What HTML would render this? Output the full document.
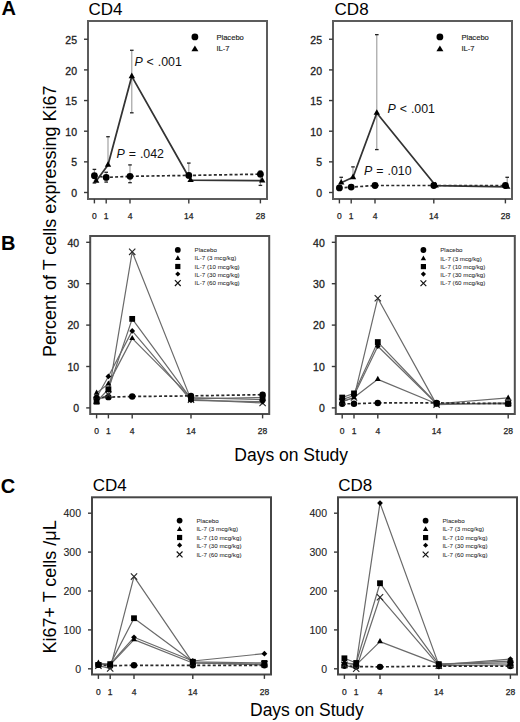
<!DOCTYPE html>
<html><head><meta charset="utf-8"><title>Figure</title>
<style>html,body{margin:0;padding:0;background:#fff;width:520px;height:722px;overflow:hidden}svg{display:block}text{font-family:"Liberation Sans", sans-serif}</style>
</head><body>
<svg width="520" height="722" viewBox="0 0 520 722" font-family='"Liberation Sans", sans-serif'>
<rect width="520" height="722" fill="#fff"/>
<text x="1.6" y="14.8" font-size="20" text-anchor="start" font-weight="bold" font-style="normal" fill="#000" >A</text>
<text x="1" y="250.4" font-size="20" text-anchor="start" font-weight="bold" font-style="normal" fill="#000" >B</text>
<text x="0.8" y="492.6" font-size="20" text-anchor="start" font-weight="bold" font-style="normal" fill="#000" >C</text>
<text x="88.5" y="15.3" font-size="17" text-anchor="start" font-weight="normal" font-style="normal" fill="#000" >CD4</text>
<text x="334.6" y="15.3" font-size="17" text-anchor="start" font-weight="normal" font-style="normal" fill="#000" >CD8</text>
<text x="92.8" y="491.1" font-size="17" text-anchor="start" font-weight="normal" font-style="normal" fill="#000" >CD4</text>
<text x="338.2" y="490.9" font-size="17" text-anchor="start" font-weight="normal" font-style="normal" fill="#000" >CD8</text>
<text transform="translate(56.0 221.3) rotate(-90)" font-size="18" text-anchor="middle" fill="#000">Percent of T cells expressing Ki67</text>
<text transform="translate(56.0 586.9) rotate(-90)" font-size="18" text-anchor="middle" fill="#000">Ki67+ T cells /μL</text>
<text x="234.3" y="460.7" font-size="17.5" text-anchor="start" font-weight="normal" font-style="normal" fill="#000" >Days on Study</text>
<text x="250" y="716.2" font-size="17.5" text-anchor="start" font-weight="normal" font-style="normal" fill="#000" >Days on Study</text>
<rect x="88" y="21" width="179" height="178" fill="none" stroke="#5c5c5c" stroke-width="2"/>
<line x1="84" y1="192.5" x2="88" y2="192.5" stroke="#3a3a3a" stroke-width="1.4"/>
<text x="77" y="197.12" font-size="10.5" text-anchor="end" font-weight="normal" font-style="normal" fill="#222" stroke="#222" stroke-width="0.3">0</text>
<line x1="84" y1="161.85" x2="88" y2="161.85" stroke="#3a3a3a" stroke-width="1.4"/>
<text x="77" y="166.47" font-size="10.5" text-anchor="end" font-weight="normal" font-style="normal" fill="#222" stroke="#222" stroke-width="0.3">5</text>
<line x1="84" y1="131.2" x2="88" y2="131.2" stroke="#3a3a3a" stroke-width="1.4"/>
<text x="77" y="135.82" font-size="10.5" text-anchor="end" font-weight="normal" font-style="normal" fill="#222" stroke="#222" stroke-width="0.3">10</text>
<line x1="84" y1="100.55" x2="88" y2="100.55" stroke="#3a3a3a" stroke-width="1.4"/>
<text x="77" y="105.17" font-size="10.5" text-anchor="end" font-weight="normal" font-style="normal" fill="#222" stroke="#222" stroke-width="0.3">15</text>
<line x1="84" y1="69.9" x2="88" y2="69.9" stroke="#3a3a3a" stroke-width="1.4"/>
<text x="77" y="74.52" font-size="10.5" text-anchor="end" font-weight="normal" font-style="normal" fill="#222" stroke="#222" stroke-width="0.3">20</text>
<line x1="84" y1="39.25" x2="88" y2="39.25" stroke="#3a3a3a" stroke-width="1.4"/>
<text x="77" y="43.87" font-size="10.5" text-anchor="end" font-weight="normal" font-style="normal" fill="#222" stroke="#222" stroke-width="0.3">25</text>
<line x1="94.4" y1="199" x2="94.4" y2="203.4" stroke="#3a3a3a" stroke-width="1.4"/>
<text x="94.4" y="219.06" font-size="8.5" text-anchor="middle" font-weight="normal" font-style="normal" fill="#222" stroke="#222" stroke-width="0.25">0</text>
<line x1="106.2" y1="199" x2="106.2" y2="203.4" stroke="#3a3a3a" stroke-width="1.4"/>
<text x="106.2" y="219.06" font-size="8.5" text-anchor="middle" font-weight="normal" font-style="normal" fill="#222" stroke="#222" stroke-width="0.25">1</text>
<line x1="130" y1="199" x2="130" y2="203.4" stroke="#3a3a3a" stroke-width="1.4"/>
<text x="130" y="219.06" font-size="8.5" text-anchor="middle" font-weight="normal" font-style="normal" fill="#222" stroke="#222" stroke-width="0.25">4</text>
<line x1="188.8" y1="199" x2="188.8" y2="203.4" stroke="#3a3a3a" stroke-width="1.4"/>
<text x="188.8" y="219.06" font-size="8.5" text-anchor="middle" font-weight="normal" font-style="normal" fill="#222" stroke="#222" stroke-width="0.25">14</text>
<line x1="260.4" y1="199" x2="260.4" y2="203.4" stroke="#3a3a3a" stroke-width="1.4"/>
<text x="260.4" y="219.06" font-size="8.5" text-anchor="middle" font-weight="normal" font-style="normal" fill="#222" stroke="#222" stroke-width="0.25">28</text>
<rect x="333" y="21" width="179" height="178" fill="none" stroke="#5c5c5c" stroke-width="2"/>
<line x1="329" y1="192.5" x2="333" y2="192.5" stroke="#3a3a3a" stroke-width="1.4"/>
<text x="322" y="197.12" font-size="10.5" text-anchor="end" font-weight="normal" font-style="normal" fill="#222" stroke="#222" stroke-width="0.3">0</text>
<line x1="329" y1="161.85" x2="333" y2="161.85" stroke="#3a3a3a" stroke-width="1.4"/>
<text x="322" y="166.47" font-size="10.5" text-anchor="end" font-weight="normal" font-style="normal" fill="#222" stroke="#222" stroke-width="0.3">5</text>
<line x1="329" y1="131.2" x2="333" y2="131.2" stroke="#3a3a3a" stroke-width="1.4"/>
<text x="322" y="135.82" font-size="10.5" text-anchor="end" font-weight="normal" font-style="normal" fill="#222" stroke="#222" stroke-width="0.3">10</text>
<line x1="329" y1="100.55" x2="333" y2="100.55" stroke="#3a3a3a" stroke-width="1.4"/>
<text x="322" y="105.17" font-size="10.5" text-anchor="end" font-weight="normal" font-style="normal" fill="#222" stroke="#222" stroke-width="0.3">15</text>
<line x1="329" y1="69.9" x2="333" y2="69.9" stroke="#3a3a3a" stroke-width="1.4"/>
<text x="322" y="74.52" font-size="10.5" text-anchor="end" font-weight="normal" font-style="normal" fill="#222" stroke="#222" stroke-width="0.3">20</text>
<line x1="329" y1="39.25" x2="333" y2="39.25" stroke="#3a3a3a" stroke-width="1.4"/>
<text x="322" y="43.87" font-size="10.5" text-anchor="end" font-weight="normal" font-style="normal" fill="#222" stroke="#222" stroke-width="0.3">25</text>
<line x1="339.4" y1="199" x2="339.4" y2="203.4" stroke="#3a3a3a" stroke-width="1.4"/>
<text x="339.4" y="219.06" font-size="8.5" text-anchor="middle" font-weight="normal" font-style="normal" fill="#222" stroke="#222" stroke-width="0.25">0</text>
<line x1="351.2" y1="199" x2="351.2" y2="203.4" stroke="#3a3a3a" stroke-width="1.4"/>
<text x="351.2" y="219.06" font-size="8.5" text-anchor="middle" font-weight="normal" font-style="normal" fill="#222" stroke="#222" stroke-width="0.25">1</text>
<line x1="375" y1="199" x2="375" y2="203.4" stroke="#3a3a3a" stroke-width="1.4"/>
<text x="375" y="219.06" font-size="8.5" text-anchor="middle" font-weight="normal" font-style="normal" fill="#222" stroke="#222" stroke-width="0.25">4</text>
<line x1="433.8" y1="199" x2="433.8" y2="203.4" stroke="#3a3a3a" stroke-width="1.4"/>
<text x="433.8" y="219.06" font-size="8.5" text-anchor="middle" font-weight="normal" font-style="normal" fill="#222" stroke="#222" stroke-width="0.25">14</text>
<line x1="505.4" y1="199" x2="505.4" y2="203.4" stroke="#3a3a3a" stroke-width="1.4"/>
<text x="505.4" y="219.06" font-size="8.5" text-anchor="middle" font-weight="normal" font-style="normal" fill="#222" stroke="#222" stroke-width="0.25">28</text>
<line x1="131.8" y1="50.28" x2="131.8" y2="112.81" stroke="#9a9a9a" stroke-width="1.1"/>
<line x1="130" y1="50.28" x2="133.6" y2="50.28" stroke="#222" stroke-width="1.3"/>
<line x1="130" y1="112.81" x2="133.6" y2="112.81" stroke="#222" stroke-width="1.3"/>
<line x1="108" y1="136.72" x2="108" y2="164.91" stroke="#9a9a9a" stroke-width="1.1"/>
<line x1="106.2" y1="136.72" x2="109.8" y2="136.72" stroke="#222" stroke-width="1.3"/>
<line x1="130" y1="164.91" x2="130" y2="182.69" stroke="#9a9a9a" stroke-width="1.1"/>
<line x1="128.2" y1="164.91" x2="131.8" y2="164.91" stroke="#222" stroke-width="1.3"/>
<line x1="128.2" y1="182.69" x2="131.8" y2="182.69" stroke="#222" stroke-width="1.3"/>
<line x1="94.4" y1="169.39" x2="94.4" y2="183" stroke="#9a9a9a" stroke-width="1.1"/>
<line x1="92.6" y1="169.39" x2="96.2" y2="169.39" stroke="#222" stroke-width="1.3"/>
<line x1="92.6" y1="183" x2="96.2" y2="183" stroke="#222" stroke-width="1.3"/>
<line x1="106.2" y1="172.27" x2="106.2" y2="182.08" stroke="#9a9a9a" stroke-width="1.1"/>
<line x1="104.4" y1="172.27" x2="108" y2="172.27" stroke="#222" stroke-width="1.3"/>
<line x1="104.4" y1="182.08" x2="108" y2="182.08" stroke="#222" stroke-width="1.3"/>
<line x1="188.8" y1="163.08" x2="188.8" y2="175.34" stroke="#9a9a9a" stroke-width="1.1"/>
<line x1="187" y1="163.08" x2="190.6" y2="163.08" stroke="#222" stroke-width="1.3"/>
<line x1="260.4" y1="171.05" x2="260.4" y2="185.39" stroke="#9a9a9a" stroke-width="1.1"/>
<line x1="258.6" y1="171.05" x2="262.2" y2="171.05" stroke="#222" stroke-width="1.3"/>
<line x1="258.6" y1="185.39" x2="262.2" y2="185.39" stroke="#222" stroke-width="1.3"/>
<path d="M94.4 175.7L106.2 177.42L130 176.32L188.8 175.4L260.4 174.17" fill="none" stroke="#2a2a2a" stroke-width="1.7" stroke-dasharray="3 2.2" stroke-linejoin="round"/>
<path d="M96.2 180.98L108 164.91L131.8 76.34L190.6 180.24L262.2 180.55" fill="none" stroke="#333" stroke-width="1.75" stroke-linejoin="round"/>
<circle cx="94.4" cy="175.7" r="3.4" fill="#000"/>
<circle cx="106.2" cy="177.42" r="3.4" fill="#000"/>
<circle cx="130" cy="176.32" r="3.4" fill="#000"/>
<circle cx="188.8" cy="175.4" r="3.4" fill="#000"/>
<circle cx="260.4" cy="174.17" r="3.4" fill="#000"/>
<path d="M96.2 177.24L99.4 182.84L93 182.84Z" fill="#000"/>
<path d="M108 161.18L111.2 166.78L104.8 166.78Z" fill="#000"/>
<path d="M131.8 72.6L135 78.2L128.6 78.2Z" fill="#000"/>
<path d="M190.6 176.51L193.8 182.11L187.4 182.11Z" fill="#000"/>
<path d="M262.2 176.81L265.4 182.41L259 182.41Z" fill="#000"/>
<text x="134.4" y="66.1" font-size="12.4" text-anchor="start" font-weight="normal" font-style="normal" fill="#111" word-spacing="0.5"><tspan font-style="italic">P</tspan> &lt; .001</text>
<text x="116.5" y="157.7" font-size="12.4" text-anchor="start" font-weight="normal" font-style="normal" fill="#111" word-spacing="0.5"><tspan font-style="italic">P</tspan> = .042</text>
<line x1="376.8" y1="34.65" x2="376.8" y2="149.59" stroke="#9a9a9a" stroke-width="1.1"/>
<line x1="375" y1="34.65" x2="378.6" y2="34.65" stroke="#222" stroke-width="1.3"/>
<line x1="375" y1="149.59" x2="378.6" y2="149.59" stroke="#222" stroke-width="1.3"/>
<line x1="341.2" y1="177.3" x2="341.2" y2="182.69" stroke="#9a9a9a" stroke-width="1.1"/>
<line x1="339.4" y1="177.3" x2="343" y2="177.3" stroke="#222" stroke-width="1.3"/>
<line x1="353" y1="166.88" x2="353" y2="177.3" stroke="#9a9a9a" stroke-width="1.1"/>
<line x1="351.2" y1="166.88" x2="354.8" y2="166.88" stroke="#222" stroke-width="1.3"/>
<line x1="507.2" y1="177.3" x2="507.2" y2="186.98" stroke="#9a9a9a" stroke-width="1.1"/>
<line x1="505.4" y1="177.3" x2="509" y2="177.3" stroke="#222" stroke-width="1.3"/>
<path d="M339.4 187.9L351.2 187.11L375 185.51L433.8 185.51L505.4 185.51" fill="none" stroke="#2a2a2a" stroke-width="1.7" stroke-dasharray="3 2.2" stroke-linejoin="round"/>
<path d="M341.2 182.69L353 177.3L376.8 112.99L435.6 185.51L507.2 186.98" fill="none" stroke="#333" stroke-width="1.75" stroke-linejoin="round"/>
<circle cx="339.4" cy="187.9" r="3.4" fill="#000"/>
<circle cx="351.2" cy="187.11" r="3.4" fill="#000"/>
<circle cx="375" cy="185.51" r="3.4" fill="#000"/>
<circle cx="433.8" cy="185.51" r="3.4" fill="#000"/>
<circle cx="505.4" cy="185.51" r="3.4" fill="#000"/>
<path d="M341.2 178.96L344.4 184.56L338 184.56Z" fill="#000"/>
<path d="M353 173.56L356.2 179.16L349.8 179.16Z" fill="#000"/>
<path d="M376.8 109.26L380 114.86L373.6 114.86Z" fill="#000"/>
<path d="M435.6 181.78L438.8 187.38L432.4 187.38Z" fill="#000"/>
<path d="M507.2 183.25L510.4 188.85L504 188.85Z" fill="#000"/>
<text x="387.5" y="112.5" font-size="12.4" text-anchor="start" font-weight="normal" font-style="normal" fill="#111" word-spacing="0.5"><tspan font-style="italic">P</tspan> &lt; .001</text>
<text x="364.1" y="174.7" font-size="12.4" text-anchor="start" font-weight="normal" font-style="normal" fill="#111" word-spacing="0.5"><tspan font-style="italic">P</tspan> = .010</text>
<circle cx="194.9" cy="36.9" r="3.4" fill="#000"/>
<path d="M194.9 45.43L198.4 51.23L191.4 51.23Z" fill="#000"/>
<text x="216.4" y="40.3" font-size="7.6" text-anchor="start" font-weight="normal" font-style="normal" fill="#222" stroke="#222" stroke-width="0.15">Placebo</text>
<text x="216.4" y="51" font-size="7.6" text-anchor="start" font-weight="normal" font-style="normal" fill="#222" stroke="#222" stroke-width="0.15">IL-7</text>
<circle cx="439.9" cy="36.9" r="3.4" fill="#000"/>
<path d="M439.9 45.43L443.4 51.23L436.4 51.23Z" fill="#000"/>
<text x="461.4" y="40.3" font-size="7.6" text-anchor="start" font-weight="normal" font-style="normal" fill="#222" stroke="#222" stroke-width="0.15">Placebo</text>
<text x="461.4" y="51" font-size="7.6" text-anchor="start" font-weight="normal" font-style="normal" fill="#222" stroke="#222" stroke-width="0.15">IL-7</text>
<rect x="90.2" y="236" width="179" height="178" fill="none" stroke="#4e4e4e" stroke-width="2"/>
<line x1="86.2" y1="407.9" x2="90.2" y2="407.9" stroke="#3a3a3a" stroke-width="1.4"/>
<text x="79.2" y="412.1" font-size="10.5" text-anchor="end" font-weight="normal" font-style="normal" fill="#222" stroke="#222" stroke-width="0.3">0</text>
<line x1="86.2" y1="366.5" x2="90.2" y2="366.5" stroke="#3a3a3a" stroke-width="1.4"/>
<text x="79.2" y="370.7" font-size="10.5" text-anchor="end" font-weight="normal" font-style="normal" fill="#222" stroke="#222" stroke-width="0.3">10</text>
<line x1="86.2" y1="325.1" x2="90.2" y2="325.1" stroke="#3a3a3a" stroke-width="1.4"/>
<text x="79.2" y="329.3" font-size="10.5" text-anchor="end" font-weight="normal" font-style="normal" fill="#222" stroke="#222" stroke-width="0.3">20</text>
<line x1="86.2" y1="283.7" x2="90.2" y2="283.7" stroke="#3a3a3a" stroke-width="1.4"/>
<text x="79.2" y="287.9" font-size="10.5" text-anchor="end" font-weight="normal" font-style="normal" fill="#222" stroke="#222" stroke-width="0.3">30</text>
<line x1="86.2" y1="242.3" x2="90.2" y2="242.3" stroke="#3a3a3a" stroke-width="1.4"/>
<text x="79.2" y="246.5" font-size="10.5" text-anchor="end" font-weight="normal" font-style="normal" fill="#222" stroke="#222" stroke-width="0.3">40</text>
<line x1="96.6" y1="414" x2="96.6" y2="418.4" stroke="#3a3a3a" stroke-width="1.4"/>
<text x="96.6" y="434.06" font-size="8.5" text-anchor="middle" font-weight="normal" font-style="normal" fill="#222" stroke="#222" stroke-width="0.25">0</text>
<line x1="108.4" y1="414" x2="108.4" y2="418.4" stroke="#3a3a3a" stroke-width="1.4"/>
<text x="108.4" y="434.06" font-size="8.5" text-anchor="middle" font-weight="normal" font-style="normal" fill="#222" stroke="#222" stroke-width="0.25">1</text>
<line x1="132.2" y1="414" x2="132.2" y2="418.4" stroke="#3a3a3a" stroke-width="1.4"/>
<text x="132.2" y="434.06" font-size="8.5" text-anchor="middle" font-weight="normal" font-style="normal" fill="#222" stroke="#222" stroke-width="0.25">4</text>
<line x1="191" y1="414" x2="191" y2="418.4" stroke="#3a3a3a" stroke-width="1.4"/>
<text x="191" y="434.06" font-size="8.5" text-anchor="middle" font-weight="normal" font-style="normal" fill="#222" stroke="#222" stroke-width="0.25">14</text>
<line x1="262.6" y1="414" x2="262.6" y2="418.4" stroke="#3a3a3a" stroke-width="1.4"/>
<text x="262.6" y="434.06" font-size="8.5" text-anchor="middle" font-weight="normal" font-style="normal" fill="#222" stroke="#222" stroke-width="0.25">28</text>
<path d="M96.6 400.45L108.4 394.65L132.2 251.82L191 399.62L262.6 402.93" fill="none" stroke="#6a6a6a" stroke-width="1.2" stroke-linejoin="round"/>
<path d="M96.6 401.69L108.4 389.27L132.2 318.89L191 398.79L262.6 397.55" fill="none" stroke="#6a6a6a" stroke-width="1.2" stroke-linejoin="round"/>
<path d="M96.6 397.55L108.4 376.44L132.2 330.9L191 400.45L262.6 401.69" fill="none" stroke="#6a6a6a" stroke-width="1.2" stroke-linejoin="round"/>
<path d="M96.6 393L108.4 383.89L132.2 338.35L191 397.55L262.6 399.62" fill="none" stroke="#6a6a6a" stroke-width="1.2" stroke-linejoin="round"/>
<path d="M96.6 397.96L108.4 397.14L132.2 396.51L191 395.89L262.6 394.65" fill="none" stroke="#2a2a2a" stroke-width="1.7" stroke-dasharray="3 2.2" stroke-linejoin="round"/>
<circle cx="96.6" cy="397.96" r="3.2" fill="#000"/>
<circle cx="108.4" cy="397.14" r="3.2" fill="#000"/>
<circle cx="132.2" cy="396.51" r="3.2" fill="#000"/>
<circle cx="191" cy="395.89" r="3.2" fill="#000"/>
<circle cx="262.6" cy="394.65" r="3.2" fill="#000"/>
<path d="M93.45 397.3L99.75 403.6M93.45 403.6L99.75 397.3" stroke="#2a2a2a" stroke-width="1.15" fill="none"/>
<path d="M105.25 391.5L111.55 397.8M105.25 397.8L111.55 391.5" stroke="#2a2a2a" stroke-width="1.15" fill="none"/>
<path d="M129.05 248.67L135.35 254.97M129.05 254.97L135.35 248.67" stroke="#2a2a2a" stroke-width="1.15" fill="none"/>
<path d="M187.85 396.47L194.15 402.77M187.85 402.77L194.15 396.47" stroke="#2a2a2a" stroke-width="1.15" fill="none"/>
<path d="M259.45 399.78L265.75 406.08M259.45 406.08L265.75 399.78" stroke="#2a2a2a" stroke-width="1.15" fill="none"/>
<rect x="93.7" y="398.79" width="5.8" height="5.8" fill="#000"/>
<rect x="105.5" y="386.37" width="5.8" height="5.8" fill="#000"/>
<rect x="129.3" y="315.99" width="5.8" height="5.8" fill="#000"/>
<rect x="188.1" y="395.89" width="5.8" height="5.8" fill="#000"/>
<rect x="259.7" y="394.65" width="5.8" height="5.8" fill="#000"/>
<path d="M96.6 394.65L99.5 397.55L96.6 400.45L93.7 397.55Z" fill="#000"/>
<path d="M108.4 373.54L111.3 376.44L108.4 379.34L105.5 376.44Z" fill="#000"/>
<path d="M132.2 328L135.1 330.9L132.2 333.8L129.3 330.9Z" fill="#000"/>
<path d="M191 397.55L193.9 400.45L191 403.35L188.1 400.45Z" fill="#000"/>
<path d="M262.6 398.79L265.5 401.69L262.6 404.59L259.7 401.69Z" fill="#000"/>
<path d="M96.6 389.53L99.5 394.73L93.7 394.73Z" fill="#000"/>
<path d="M108.4 380.42L111.3 385.62L105.5 385.62Z" fill="#000"/>
<path d="M132.2 334.88L135.1 340.08L129.3 340.08Z" fill="#000"/>
<path d="M191 394.08L193.9 399.28L188.1 399.28Z" fill="#000"/>
<path d="M262.6 396.15L265.5 401.35L259.7 401.35Z" fill="#000"/>
<circle cx="177.8" cy="249.9" r="2.9" fill="#000"/>
<text x="194.6" y="252.1" font-size="6.2" text-anchor="start" font-weight="normal" font-style="normal" fill="#2a2a2a" stroke="#2a2a2a" stroke-width="0.05">Placebo</text>
<path d="M177.8 255.3L180.5 260.1L175.1 260.1Z" fill="#000"/>
<text x="194.6" y="260.4" font-size="6.2" text-anchor="start" font-weight="normal" font-style="normal" fill="#2a2a2a" stroke="#2a2a2a" stroke-width="0.05">IL-7 (3 mcg/kg)</text>
<rect x="175.2" y="263.9" width="5.2" height="5.2" fill="#000"/>
<text x="194.6" y="268.7" font-size="6.2" text-anchor="start" font-weight="normal" font-style="normal" fill="#2a2a2a" stroke="#2a2a2a" stroke-width="0.05">IL-7 (10 mcg/kg)</text>
<path d="M177.8 271.4L180.4 274L177.8 276.6L175.2 274Z" fill="#000"/>
<text x="194.6" y="277" font-size="6.2" text-anchor="start" font-weight="normal" font-style="normal" fill="#2a2a2a" stroke="#2a2a2a" stroke-width="0.05">IL-7 (30 mcg/kg)</text>
<path d="M174.9 280.2L180.7 286M174.9 286L180.7 280.2" stroke="#111" stroke-width="1.2" fill="none"/>
<text x="194.6" y="285.3" font-size="6.2" text-anchor="start" font-weight="normal" font-style="normal" fill="#2a2a2a" stroke="#2a2a2a" stroke-width="0.05">IL-7 (60 mcg/kg)</text>
<rect x="335.8" y="236" width="179" height="178" fill="none" stroke="#4e4e4e" stroke-width="2"/>
<line x1="331.8" y1="407.9" x2="335.8" y2="407.9" stroke="#3a3a3a" stroke-width="1.4"/>
<text x="324.8" y="412.1" font-size="10.5" text-anchor="end" font-weight="normal" font-style="normal" fill="#222" stroke="#222" stroke-width="0.3">0</text>
<line x1="331.8" y1="366.5" x2="335.8" y2="366.5" stroke="#3a3a3a" stroke-width="1.4"/>
<text x="324.8" y="370.7" font-size="10.5" text-anchor="end" font-weight="normal" font-style="normal" fill="#222" stroke="#222" stroke-width="0.3">10</text>
<line x1="331.8" y1="325.1" x2="335.8" y2="325.1" stroke="#3a3a3a" stroke-width="1.4"/>
<text x="324.8" y="329.3" font-size="10.5" text-anchor="end" font-weight="normal" font-style="normal" fill="#222" stroke="#222" stroke-width="0.3">20</text>
<line x1="331.8" y1="283.7" x2="335.8" y2="283.7" stroke="#3a3a3a" stroke-width="1.4"/>
<text x="324.8" y="287.9" font-size="10.5" text-anchor="end" font-weight="normal" font-style="normal" fill="#222" stroke="#222" stroke-width="0.3">30</text>
<line x1="331.8" y1="242.3" x2="335.8" y2="242.3" stroke="#3a3a3a" stroke-width="1.4"/>
<text x="324.8" y="246.5" font-size="10.5" text-anchor="end" font-weight="normal" font-style="normal" fill="#222" stroke="#222" stroke-width="0.3">40</text>
<line x1="342.2" y1="414" x2="342.2" y2="418.4" stroke="#3a3a3a" stroke-width="1.4"/>
<text x="342.2" y="434.06" font-size="8.5" text-anchor="middle" font-weight="normal" font-style="normal" fill="#222" stroke="#222" stroke-width="0.25">0</text>
<line x1="354" y1="414" x2="354" y2="418.4" stroke="#3a3a3a" stroke-width="1.4"/>
<text x="354" y="434.06" font-size="8.5" text-anchor="middle" font-weight="normal" font-style="normal" fill="#222" stroke="#222" stroke-width="0.25">1</text>
<line x1="377.8" y1="414" x2="377.8" y2="418.4" stroke="#3a3a3a" stroke-width="1.4"/>
<text x="377.8" y="434.06" font-size="8.5" text-anchor="middle" font-weight="normal" font-style="normal" fill="#222" stroke="#222" stroke-width="0.25">4</text>
<line x1="436.6" y1="414" x2="436.6" y2="418.4" stroke="#3a3a3a" stroke-width="1.4"/>
<text x="436.6" y="434.06" font-size="8.5" text-anchor="middle" font-weight="normal" font-style="normal" fill="#222" stroke="#222" stroke-width="0.25">14</text>
<line x1="508.2" y1="414" x2="508.2" y2="418.4" stroke="#3a3a3a" stroke-width="1.4"/>
<text x="508.2" y="434.06" font-size="8.5" text-anchor="middle" font-weight="normal" font-style="normal" fill="#222" stroke="#222" stroke-width="0.25">28</text>
<path d="M342.2 401.69L354 397.55L377.8 298.19L436.6 404.59L508.2 402.93" fill="none" stroke="#6a6a6a" stroke-width="1.2" stroke-linejoin="round"/>
<path d="M342.2 397.55L354 393.41L377.8 342.07L436.6 403.76L508.2 403.76" fill="none" stroke="#6a6a6a" stroke-width="1.2" stroke-linejoin="round"/>
<path d="M342.2 399.62L354 395.48L377.8 346.21L436.6 403.76L508.2 403.76" fill="none" stroke="#6a6a6a" stroke-width="1.2" stroke-linejoin="round"/>
<path d="M342.2 401.69L354 397.55L377.8 379.33L436.6 403.76L508.2 397.96" fill="none" stroke="#6a6a6a" stroke-width="1.2" stroke-linejoin="round"/>
<path d="M342.2 403.76L354 403.76L377.8 402.93L436.6 402.93L508.2 403.55" fill="none" stroke="#2a2a2a" stroke-width="1.7" stroke-dasharray="3 2.2" stroke-linejoin="round"/>
<circle cx="342.2" cy="403.76" r="3.2" fill="#000"/>
<circle cx="354" cy="403.76" r="3.2" fill="#000"/>
<circle cx="377.8" cy="402.93" r="3.2" fill="#000"/>
<circle cx="436.6" cy="402.93" r="3.2" fill="#000"/>
<circle cx="508.2" cy="403.55" r="3.2" fill="#000"/>
<path d="M339.05 398.54L345.35 404.84M339.05 404.84L345.35 398.54" stroke="#2a2a2a" stroke-width="1.15" fill="none"/>
<path d="M350.85 394.4L357.15 400.7M350.85 400.7L357.15 394.4" stroke="#2a2a2a" stroke-width="1.15" fill="none"/>
<path d="M374.65 295.04L380.95 301.34M374.65 301.34L380.95 295.04" stroke="#2a2a2a" stroke-width="1.15" fill="none"/>
<path d="M433.45 401.44L439.75 407.74M433.45 407.74L439.75 401.44" stroke="#2a2a2a" stroke-width="1.15" fill="none"/>
<path d="M505.05 399.78L511.35 406.08M505.05 406.08L511.35 399.78" stroke="#2a2a2a" stroke-width="1.15" fill="none"/>
<rect x="339.3" y="394.65" width="5.8" height="5.8" fill="#000"/>
<rect x="351.1" y="390.51" width="5.8" height="5.8" fill="#000"/>
<rect x="374.9" y="339.17" width="5.8" height="5.8" fill="#000"/>
<rect x="433.7" y="400.86" width="5.8" height="5.8" fill="#000"/>
<rect x="505.3" y="400.86" width="5.8" height="5.8" fill="#000"/>
<path d="M342.2 396.72L345.1 399.62L342.2 402.52L339.3 399.62Z" fill="#000"/>
<path d="M354 392.58L356.9 395.48L354 398.38L351.1 395.48Z" fill="#000"/>
<path d="M377.8 343.31L380.7 346.21L377.8 349.11L374.9 346.21Z" fill="#000"/>
<path d="M436.6 400.86L439.5 403.76L436.6 406.66L433.7 403.76Z" fill="#000"/>
<path d="M508.2 400.86L511.1 403.76L508.2 406.66L505.3 403.76Z" fill="#000"/>
<path d="M342.2 398.22L345.1 403.42L339.3 403.42Z" fill="#000"/>
<path d="M354 394.08L356.9 399.28L351.1 399.28Z" fill="#000"/>
<path d="M377.8 375.87L380.7 381.07L374.9 381.07Z" fill="#000"/>
<path d="M436.6 400.29L439.5 405.49L433.7 405.49Z" fill="#000"/>
<path d="M508.2 394.5L511.1 399.7L505.3 399.7Z" fill="#000"/>
<circle cx="423.4" cy="250" r="2.9" fill="#000"/>
<text x="440.2" y="252.2" font-size="6.2" text-anchor="start" font-weight="normal" font-style="normal" fill="#2a2a2a" stroke="#2a2a2a" stroke-width="0.05">Placebo</text>
<path d="M423.4 255.4L426.1 260.2L420.7 260.2Z" fill="#000"/>
<text x="440.2" y="260.5" font-size="6.2" text-anchor="start" font-weight="normal" font-style="normal" fill="#2a2a2a" stroke="#2a2a2a" stroke-width="0.05">IL-7 (3 mcg/kg)</text>
<rect x="420.8" y="264" width="5.2" height="5.2" fill="#000"/>
<text x="440.2" y="268.8" font-size="6.2" text-anchor="start" font-weight="normal" font-style="normal" fill="#2a2a2a" stroke="#2a2a2a" stroke-width="0.05">IL-7 (10 mcg/kg)</text>
<path d="M423.4 271.5L426 274.1L423.4 276.7L420.8 274.1Z" fill="#000"/>
<text x="440.2" y="277.1" font-size="6.2" text-anchor="start" font-weight="normal" font-style="normal" fill="#2a2a2a" stroke="#2a2a2a" stroke-width="0.05">IL-7 (30 mcg/kg)</text>
<path d="M420.5 280.3L426.3 286.1M420.5 286.1L426.3 280.3" stroke="#111" stroke-width="1.2" fill="none"/>
<text x="440.2" y="285.4" font-size="6.2" text-anchor="start" font-weight="normal" font-style="normal" fill="#2a2a2a" stroke="#2a2a2a" stroke-width="0.05">IL-7 (60 mcg/kg)</text>
<rect x="92" y="497.3" width="179" height="177.2" fill="none" stroke="#464646" stroke-width="2"/>
<line x1="88" y1="668.8" x2="92" y2="668.8" stroke="#3a3a3a" stroke-width="1.4"/>
<text x="81" y="672.58" font-size="10.5" text-anchor="end" font-weight="normal" font-style="normal" fill="#222" stroke="#222" stroke-width="0.1">0</text>
<line x1="88" y1="629.9" x2="92" y2="629.9" stroke="#3a3a3a" stroke-width="1.4"/>
<text x="81" y="633.68" font-size="10.5" text-anchor="end" font-weight="normal" font-style="normal" fill="#222" stroke="#222" stroke-width="0.1">100</text>
<line x1="88" y1="591" x2="92" y2="591" stroke="#3a3a3a" stroke-width="1.4"/>
<text x="81" y="594.78" font-size="10.5" text-anchor="end" font-weight="normal" font-style="normal" fill="#222" stroke="#222" stroke-width="0.1">200</text>
<line x1="88" y1="552.1" x2="92" y2="552.1" stroke="#3a3a3a" stroke-width="1.4"/>
<text x="81" y="555.88" font-size="10.5" text-anchor="end" font-weight="normal" font-style="normal" fill="#222" stroke="#222" stroke-width="0.1">300</text>
<line x1="88" y1="513.2" x2="92" y2="513.2" stroke="#3a3a3a" stroke-width="1.4"/>
<text x="81" y="516.98" font-size="10.5" text-anchor="end" font-weight="normal" font-style="normal" fill="#222" stroke="#222" stroke-width="0.1">400</text>
<line x1="98.4" y1="674.5" x2="98.4" y2="678.9" stroke="#3a3a3a" stroke-width="1.4"/>
<text x="98.4" y="694.56" font-size="8.5" text-anchor="middle" font-weight="normal" font-style="normal" fill="#222" stroke="#222" stroke-width="0.25">0</text>
<line x1="110.2" y1="674.5" x2="110.2" y2="678.9" stroke="#3a3a3a" stroke-width="1.4"/>
<text x="110.2" y="694.56" font-size="8.5" text-anchor="middle" font-weight="normal" font-style="normal" fill="#222" stroke="#222" stroke-width="0.25">1</text>
<line x1="134" y1="674.5" x2="134" y2="678.9" stroke="#3a3a3a" stroke-width="1.4"/>
<text x="134" y="694.56" font-size="8.5" text-anchor="middle" font-weight="normal" font-style="normal" fill="#222" stroke="#222" stroke-width="0.25">4</text>
<line x1="192.8" y1="674.5" x2="192.8" y2="678.9" stroke="#3a3a3a" stroke-width="1.4"/>
<text x="192.8" y="694.56" font-size="8.5" text-anchor="middle" font-weight="normal" font-style="normal" fill="#222" stroke="#222" stroke-width="0.25">14</text>
<line x1="264.4" y1="674.5" x2="264.4" y2="678.9" stroke="#3a3a3a" stroke-width="1.4"/>
<text x="264.4" y="694.56" font-size="8.5" text-anchor="middle" font-weight="normal" font-style="normal" fill="#222" stroke="#222" stroke-width="0.25">28</text>
<path d="M98.4 665.69L110.2 668.41L134 576.61L192.8 662.96L264.4 664.13" fill="none" stroke="#6a6a6a" stroke-width="1.2" stroke-linejoin="round"/>
<path d="M98.4 664.91L110.2 664.13L134 618.23L192.8 661.8L264.4 662.96" fill="none" stroke="#6a6a6a" stroke-width="1.2" stroke-linejoin="round"/>
<path d="M98.4 664.13L110.2 664.13L134 637.29L192.8 661.02L264.4 653.63" fill="none" stroke="#6a6a6a" stroke-width="1.2" stroke-linejoin="round"/>
<path d="M98.4 662.96L110.2 664.91L134 639.62L192.8 662.96L264.4 664.91" fill="none" stroke="#6a6a6a" stroke-width="1.2" stroke-linejoin="round"/>
<path d="M98.4 664.91L110.2 665.69L134 665.3L192.8 665.3L264.4 665.3" fill="none" stroke="#2a2a2a" stroke-width="1.7" stroke-dasharray="3 2.2" stroke-linejoin="round"/>
<circle cx="98.4" cy="664.91" r="3.2" fill="#000"/>
<circle cx="110.2" cy="665.69" r="3.2" fill="#000"/>
<circle cx="134" cy="665.3" r="3.2" fill="#000"/>
<circle cx="192.8" cy="665.3" r="3.2" fill="#000"/>
<circle cx="264.4" cy="665.3" r="3.2" fill="#000"/>
<path d="M95.25 662.54L101.55 668.84M95.25 668.84L101.55 662.54" stroke="#2a2a2a" stroke-width="1.15" fill="none"/>
<path d="M107.05 665.26L113.35 671.56M107.05 671.56L113.35 665.26" stroke="#2a2a2a" stroke-width="1.15" fill="none"/>
<path d="M130.85 573.46L137.15 579.76M130.85 579.76L137.15 573.46" stroke="#2a2a2a" stroke-width="1.15" fill="none"/>
<path d="M189.65 659.81L195.95 666.11M189.65 666.11L195.95 659.81" stroke="#2a2a2a" stroke-width="1.15" fill="none"/>
<path d="M261.25 660.98L267.55 667.28M261.25 667.28L267.55 660.98" stroke="#2a2a2a" stroke-width="1.15" fill="none"/>
<rect x="95.5" y="662.01" width="5.8" height="5.8" fill="#000"/>
<rect x="107.3" y="661.23" width="5.8" height="5.8" fill="#000"/>
<rect x="131.1" y="615.33" width="5.8" height="5.8" fill="#000"/>
<rect x="189.9" y="658.9" width="5.8" height="5.8" fill="#000"/>
<rect x="261.5" y="660.06" width="5.8" height="5.8" fill="#000"/>
<path d="M98.4 661.23L101.3 664.13L98.4 667.03L95.5 664.13Z" fill="#000"/>
<path d="M110.2 661.23L113.1 664.13L110.2 667.03L107.3 664.13Z" fill="#000"/>
<path d="M134 634.39L136.9 637.29L134 640.19L131.1 637.29Z" fill="#000"/>
<path d="M192.8 658.12L195.7 661.02L192.8 663.92L189.9 661.02Z" fill="#000"/>
<path d="M264.4 650.73L267.3 653.63L264.4 656.53L261.5 653.63Z" fill="#000"/>
<path d="M98.4 659.5L101.3 664.7L95.5 664.7Z" fill="#000"/>
<path d="M110.2 661.44L113.1 666.64L107.3 666.64Z" fill="#000"/>
<path d="M134 636.16L136.9 641.36L131.1 641.36Z" fill="#000"/>
<path d="M192.8 659.5L195.7 664.7L189.9 664.7Z" fill="#000"/>
<path d="M264.4 661.44L267.3 666.64L261.5 666.64Z" fill="#000"/>
<circle cx="179.6" cy="520.6" r="2.9" fill="#000"/>
<text x="196.4" y="522.8" font-size="6.2" text-anchor="start" font-weight="normal" font-style="normal" fill="#2a2a2a" stroke="#2a2a2a" stroke-width="0.05">Placebo</text>
<path d="M179.6 526.15L182.3 530.95L176.9 530.95Z" fill="#000"/>
<text x="196.4" y="531.25" font-size="6.2" text-anchor="start" font-weight="normal" font-style="normal" fill="#2a2a2a" stroke="#2a2a2a" stroke-width="0.05">IL-7 (3 mcg/kg)</text>
<rect x="177" y="534.9" width="5.2" height="5.2" fill="#000"/>
<text x="196.4" y="539.7" font-size="6.2" text-anchor="start" font-weight="normal" font-style="normal" fill="#2a2a2a" stroke="#2a2a2a" stroke-width="0.05">IL-7 (10 mcg/kg)</text>
<path d="M179.6 542.55L182.2 545.15L179.6 547.75L177 545.15Z" fill="#000"/>
<text x="196.4" y="548.15" font-size="6.2" text-anchor="start" font-weight="normal" font-style="normal" fill="#2a2a2a" stroke="#2a2a2a" stroke-width="0.05">IL-7 (30 mcg/kg)</text>
<path d="M176.7 551.5L182.5 557.3M176.7 557.3L182.5 551.5" stroke="#111" stroke-width="1.2" fill="none"/>
<text x="196.4" y="556.6" font-size="6.2" text-anchor="start" font-weight="normal" font-style="normal" fill="#2a2a2a" stroke="#2a2a2a" stroke-width="0.05">IL-7 (60 mcg/kg)</text>
<rect x="338" y="497.3" width="179" height="177.2" fill="none" stroke="#464646" stroke-width="2"/>
<line x1="334" y1="668.8" x2="338" y2="668.8" stroke="#3a3a3a" stroke-width="1.4"/>
<text x="327" y="672.58" font-size="10.5" text-anchor="end" font-weight="normal" font-style="normal" fill="#222" stroke="#222" stroke-width="0.1">0</text>
<line x1="334" y1="629.9" x2="338" y2="629.9" stroke="#3a3a3a" stroke-width="1.4"/>
<text x="327" y="633.68" font-size="10.5" text-anchor="end" font-weight="normal" font-style="normal" fill="#222" stroke="#222" stroke-width="0.1">100</text>
<line x1="334" y1="591" x2="338" y2="591" stroke="#3a3a3a" stroke-width="1.4"/>
<text x="327" y="594.78" font-size="10.5" text-anchor="end" font-weight="normal" font-style="normal" fill="#222" stroke="#222" stroke-width="0.1">200</text>
<line x1="334" y1="552.1" x2="338" y2="552.1" stroke="#3a3a3a" stroke-width="1.4"/>
<text x="327" y="555.88" font-size="10.5" text-anchor="end" font-weight="normal" font-style="normal" fill="#222" stroke="#222" stroke-width="0.1">300</text>
<line x1="334" y1="513.2" x2="338" y2="513.2" stroke="#3a3a3a" stroke-width="1.4"/>
<text x="327" y="516.98" font-size="10.5" text-anchor="end" font-weight="normal" font-style="normal" fill="#222" stroke="#222" stroke-width="0.1">400</text>
<line x1="344.4" y1="674.5" x2="344.4" y2="678.9" stroke="#3a3a3a" stroke-width="1.4"/>
<text x="344.4" y="694.56" font-size="8.5" text-anchor="middle" font-weight="normal" font-style="normal" fill="#222" stroke="#222" stroke-width="0.25">0</text>
<line x1="356.2" y1="674.5" x2="356.2" y2="678.9" stroke="#3a3a3a" stroke-width="1.4"/>
<text x="356.2" y="694.56" font-size="8.5" text-anchor="middle" font-weight="normal" font-style="normal" fill="#222" stroke="#222" stroke-width="0.25">1</text>
<line x1="380" y1="674.5" x2="380" y2="678.9" stroke="#3a3a3a" stroke-width="1.4"/>
<text x="380" y="694.56" font-size="8.5" text-anchor="middle" font-weight="normal" font-style="normal" fill="#222" stroke="#222" stroke-width="0.25">4</text>
<line x1="438.8" y1="674.5" x2="438.8" y2="678.9" stroke="#3a3a3a" stroke-width="1.4"/>
<text x="438.8" y="694.56" font-size="8.5" text-anchor="middle" font-weight="normal" font-style="normal" fill="#222" stroke="#222" stroke-width="0.25">14</text>
<line x1="510.4" y1="674.5" x2="510.4" y2="678.9" stroke="#3a3a3a" stroke-width="1.4"/>
<text x="510.4" y="694.56" font-size="8.5" text-anchor="middle" font-weight="normal" font-style="normal" fill="#222" stroke="#222" stroke-width="0.25">28</text>
<path d="M344.4 664.91L356.2 668.8L380 597.22L438.8 665.69L510.4 664.91" fill="none" stroke="#6a6a6a" stroke-width="1.2" stroke-linejoin="round"/>
<path d="M344.4 658.3L356.2 662.96L380 583.22L438.8 664.13L510.4 662.96" fill="none" stroke="#6a6a6a" stroke-width="1.2" stroke-linejoin="round"/>
<path d="M344.4 662.96L356.2 664.13L380 503.09L438.8 664.91L510.4 659.07" fill="none" stroke="#6a6a6a" stroke-width="1.2" stroke-linejoin="round"/>
<path d="M344.4 662.96L356.2 664.91L380 641.57L438.8 664.13L510.4 661.02" fill="none" stroke="#6a6a6a" stroke-width="1.2" stroke-linejoin="round"/>
<path d="M344.4 665.69L356.2 666.47L380 666.85L438.8 666.08L510.4 666.08" fill="none" stroke="#2a2a2a" stroke-width="1.7" stroke-dasharray="3 2.2" stroke-linejoin="round"/>
<circle cx="344.4" cy="665.69" r="3.2" fill="#000"/>
<circle cx="356.2" cy="666.47" r="3.2" fill="#000"/>
<circle cx="380" cy="666.85" r="3.2" fill="#000"/>
<circle cx="438.8" cy="666.08" r="3.2" fill="#000"/>
<circle cx="510.4" cy="666.08" r="3.2" fill="#000"/>
<path d="M341.25 661.76L347.55 668.06M341.25 668.06L347.55 661.76" stroke="#2a2a2a" stroke-width="1.15" fill="none"/>
<path d="M353.05 665.65L359.35 671.95M353.05 671.95L359.35 665.65" stroke="#2a2a2a" stroke-width="1.15" fill="none"/>
<path d="M376.85 594.07L383.15 600.37M376.85 600.37L383.15 594.07" stroke="#2a2a2a" stroke-width="1.15" fill="none"/>
<path d="M435.65 662.54L441.95 668.84M435.65 668.84L441.95 662.54" stroke="#2a2a2a" stroke-width="1.15" fill="none"/>
<path d="M507.25 661.76L513.55 668.06M507.25 668.06L513.55 661.76" stroke="#2a2a2a" stroke-width="1.15" fill="none"/>
<rect x="341.5" y="655.4" width="5.8" height="5.8" fill="#000"/>
<rect x="353.3" y="660.06" width="5.8" height="5.8" fill="#000"/>
<rect x="377.1" y="580.32" width="5.8" height="5.8" fill="#000"/>
<rect x="435.9" y="661.23" width="5.8" height="5.8" fill="#000"/>
<rect x="507.5" y="660.06" width="5.8" height="5.8" fill="#000"/>
<path d="M344.4 660.06L347.3 662.96L344.4 665.86L341.5 662.96Z" fill="#000"/>
<path d="M356.2 661.23L359.1 664.13L356.2 667.03L353.3 664.13Z" fill="#000"/>
<path d="M380 500.19L382.9 503.09L380 505.99L377.1 503.09Z" fill="#000"/>
<path d="M438.8 662.01L441.7 664.91L438.8 667.81L435.9 664.91Z" fill="#000"/>
<path d="M510.4 656.17L513.3 659.07L510.4 661.97L507.5 659.07Z" fill="#000"/>
<path d="M344.4 659.5L347.3 664.7L341.5 664.7Z" fill="#000"/>
<path d="M356.2 661.44L359.1 666.64L353.3 666.64Z" fill="#000"/>
<path d="M380 638.1L382.9 643.3L377.1 643.3Z" fill="#000"/>
<path d="M438.8 660.67L441.7 665.87L435.9 665.87Z" fill="#000"/>
<path d="M510.4 657.55L513.3 662.75L507.5 662.75Z" fill="#000"/>
<circle cx="425.6" cy="520.7" r="2.9" fill="#000"/>
<text x="442.4" y="522.9" font-size="6.2" text-anchor="start" font-weight="normal" font-style="normal" fill="#2a2a2a" stroke="#2a2a2a" stroke-width="0.05">Placebo</text>
<path d="M425.6 526.25L428.3 531.05L422.9 531.05Z" fill="#000"/>
<text x="442.4" y="531.35" font-size="6.2" text-anchor="start" font-weight="normal" font-style="normal" fill="#2a2a2a" stroke="#2a2a2a" stroke-width="0.05">IL-7 (3 mcg/kg)</text>
<rect x="423" y="535" width="5.2" height="5.2" fill="#000"/>
<text x="442.4" y="539.8" font-size="6.2" text-anchor="start" font-weight="normal" font-style="normal" fill="#2a2a2a" stroke="#2a2a2a" stroke-width="0.05">IL-7 (10 mcg/kg)</text>
<path d="M425.6 542.65L428.2 545.25L425.6 547.85L423 545.25Z" fill="#000"/>
<text x="442.4" y="548.25" font-size="6.2" text-anchor="start" font-weight="normal" font-style="normal" fill="#2a2a2a" stroke="#2a2a2a" stroke-width="0.05">IL-7 (30 mcg/kg)</text>
<path d="M422.7 551.6L428.5 557.4M422.7 557.4L428.5 551.6" stroke="#111" stroke-width="1.2" fill="none"/>
<text x="442.4" y="556.7" font-size="6.2" text-anchor="start" font-weight="normal" font-style="normal" fill="#2a2a2a" stroke="#2a2a2a" stroke-width="0.05">IL-7 (60 mcg/kg)</text>
</svg>
</body></html>
